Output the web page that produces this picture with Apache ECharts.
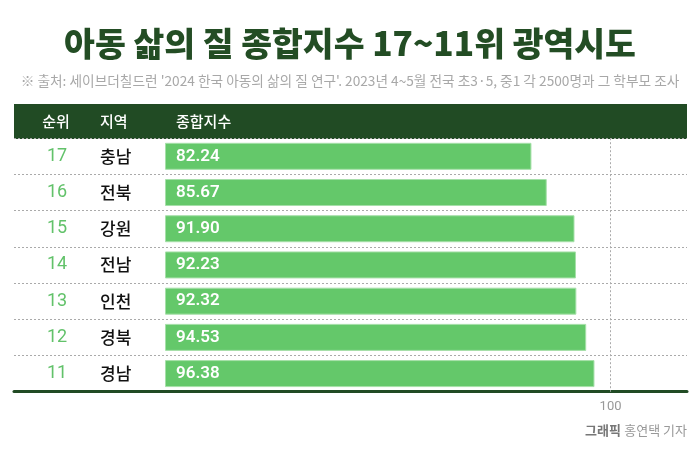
<!DOCTYPE html>
<html><head><meta charset="utf-8">
<script src="https://cdn.jsdelivr.net/npm/echarts@6/dist/echarts.min.js"></script>
<style>html,body{margin:0;padding:0;background:#fff}#c{width:700px;height:452px}</style>
</head><body><div id="c"></div>
<script>
const ranks = ['17','16','15','14','13','12','11'];
const regions = ['충남','전북','강원','전남','인천','경북','경남'];
const values = [82.24, 85.67, 91.90, 92.23, 92.32, 94.53, 96.38];
const headers = ['순위','지역','종합지수'];
const xTicks = [100];

const chart = echarts.init(document.getElementById('c'), null, {renderer:'canvas'});
const KR = '"Noto Sans CJK KR", "Noto Sans", sans-serif';
const cats = ranks.map((r,i)=>r+'|'+regions[i]);
const XMIN = -33.89, XMAX = 117.15;
chart.setOption({
  animation:false,
  title:[
    {text:'아동 삶의 질 종합지수 17~11위 광역시도', left:'center', top:22,
     textStyle:{fontFamily:KR, fontWeight:900, fontSize:33.5, color:'#234d24'}},
    {text:"※ 출처: 세이브더칠드런 '2024 한국 아동의 삶의 질 연구'. 2023년 4~5월 전국 초3·5, 중1 각 2500명과 그 학부모 조사",
     left:'center', top:69, textStyle:{fontFamily:KR, fontWeight:400, fontSize:13.7, color:'#a8a8a8'}}
  ],
  graphic:[
    {type:'rect', shape:{x:14,y:104,width:673,height:35}, style:{fill:'#214b24'}, z:-1},
    {type:'text', x:56, y:121.5, style:{text:headers[0], fill:'#fff', font:'500 15px '+KR, align:'center', verticalAlign:'middle'}},
    {type:'text', x:100, y:121.5, style:{text:headers[1], fill:'#fff', font:'500 15px '+KR, align:'left', verticalAlign:'middle'}},
    {type:'text', x:176, y:121.5, style:{text:headers[2], fill:'#fff', font:'500 15px '+KR, align:'left', verticalAlign:'middle'}},
    {type:'text', right:13, top:424, style:{text:'{b|그래픽} {n|홍연택 기자}', rich:{
      b:{fontFamily:KR, fontWeight:700, fontSize:13, fill:'#777', color:'#777'},
      n:{fontFamily:KR, fontWeight:400, fontSize:13, fill:'#999', color:'#999'}}}}
  ],
  grid:{left:14, right:13, top:138.2, bottom:60.3, containLabel:false},
  xAxis:[
    {type:'value', min:XMIN, max:XMAX,
     axisLine:{show:false}, axisTick:{show:false}, splitLine:{show:false},
     axisLabel:{show:true, customValues:xTicks, color:'#999', fontFamily:'Roboto', fontSize:13, margin:9}},
    {type:'value', position:'bottom', min:XMIN, max:XMAX,
     axisLine:{show:true, onZero:false, lineStyle:{color:'#214b24', width:3}},
     axisTick:{show:false}, axisLabel:{show:false}, splitLine:{show:false}}
  ],
  yAxis:{type:'category', inverse:true, data:cats,
    axisLine:{show:false}, axisTick:{show:false},
    splitLine:{show:true, lineStyle:{color:'#aaa', type:[2,2], width:1}},
    axisLabel:{inside:true, margin:0, align:'left',
      formatter:(v)=>{const p=v.split('|'); return '{r|'+p[0]+'}{n|'+p[1]+'}';},
      rich:{r:{width:86, align:'center', color:'#62c26a', fontFamily:'Roboto', fontWeight:400, fontSize:18},
            n:{color:'#111', fontFamily:KR, fontWeight:500, fontSize:17}}}
  },
  series:[{
    type:'bar', data:values, barWidth:27,
    itemStyle:{color:'#64c86a', borderColor:'#a6e0a9', borderWidth:1},
    label:{show:true, position:'insideLeft', distance:11, color:'#fff',
      fontFamily:'Roboto', fontWeight:600, fontSize:17, formatter:(p)=>p.value.toFixed(2)},
    markLine:{silent:true, symbol:'none', label:{show:false},
      lineStyle:{color:'#aaa', type:[2,2], width:1},
      data:[{xAxis:xTicks[0]}]}
  }]
});
</script>
</body></html>
